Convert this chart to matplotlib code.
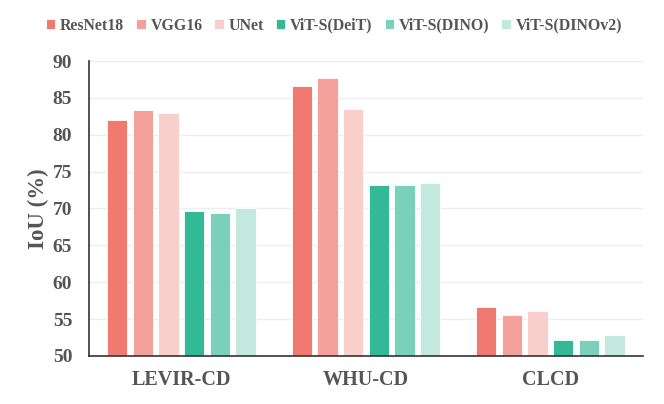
import numpy as np
import matplotlib.pyplot as plt

plt.rcParams["font.family"] = "Liberation Serif"
plt.rcParams["font.weight"] = "bold"
plt.rcParams["axes.labelweight"] = "bold"

datasets = ["LEVIR-CD", "WHU-CD", "CLCD"]
models = ["ResNet18", "VGG16", "UNet", "ViT-S(DeiT)", "ViT-S(DINO)", "ViT-S(DINOv2)"]
colors = ["#F07A70", "#F5A19B", "#F9CFCB", "#34B996", "#7AD0BA", "#C3E9DF"]

resnet18 = [82.0, 86.6, 56.7]
vgg16 = [83.3, 87.7, 55.5]
unet = [83.0, 83.5, 56.1]
vit_deit = [69.6, 73.2, 52.2]
vit_dino = [69.4, 73.2, 52.2]
vit_dinov2 = [70.0, 73.4, 52.8]

scores = [resnet18, vgg16, unet, vit_deit, vit_dino, vit_dinov2]

fig = plt.figure(figsize=(6.64, 4.04), dpi=100)
ax = fig.add_axes([0.134, 0.119, 0.834, 0.730])

x = np.arange(len(datasets))
step = 0.139
w = 0.11
for i, (name, vals) in enumerate(zip(models, scores)):
	ax.bar(x + (i - 2.5) * step, np.array(vals) - 50, w, bottom=50,
		color=colors[i], edgecolor="white", linewidth=0.6, label=name, zorder=3)

txt = "#555555"
ax.set_xlim(-0.5, 2.5)
ax.set_ylim(50, 90)
ax.set_yticks(range(50, 91, 5))
ax.set_xticks(x)
ax.set_xticklabels(datasets, fontsize=14.5, color=txt)
ax.tick_params(axis="y", labelsize=14, labelcolor=txt, length=0, pad=12)
ax.tick_params(axis="x", length=0, pad=10)
ax.set_ylabel("IoU (%)", fontsize=16.5, color=txt, labelpad=3)

ax.grid(axis="y", color="#EEEEEE", linewidth=1, zorder=0)
for s in ["top", "right"]:
	ax.spines[s].set_visible(False)
for s in ["bottom", "left"]:
	ax.spines[s].set_color("#333333")
	ax.spines[s].set_linewidth(1.2)
	ax.spines[s].set_zorder(4)

leg = fig.legend(loc="center", bbox_to_anchor=(0.503, 0.936), ncol=6, frameon=False,
	fontsize=11.4, handlelength=0.6, handleheight=0.6, handletextpad=0.3,
	columnspacing=0.75, borderpad=0, borderaxespad=0)
for t in leg.get_texts():
	t.set_color(txt)

fig.savefig("out.png", dpi=100)
